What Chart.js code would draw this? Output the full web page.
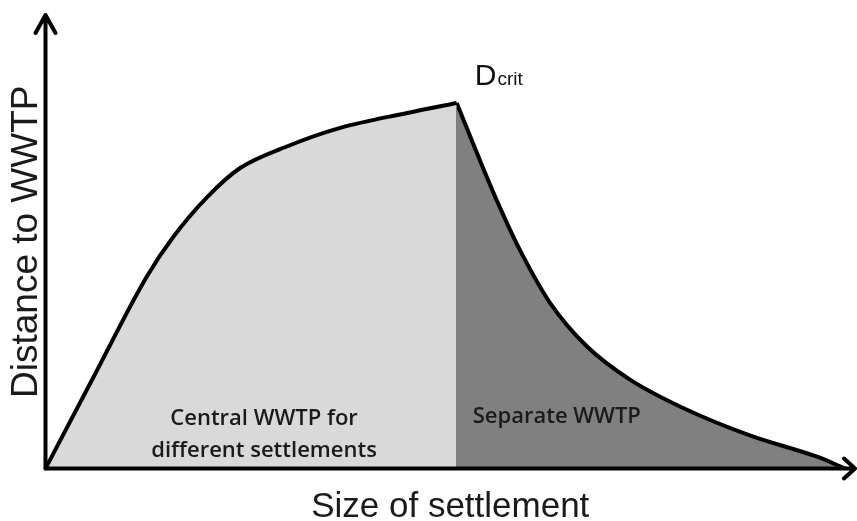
<!DOCTYPE html>
<html>
<head>
<meta charset="utf-8">
<script src="https://cdn.jsdelivr.net/npm/chart.js@4"></script>
<style>
  body { margin: 0; background: #fff; }
  .wrap { width: 857px; height: 521px; }
</style>
</head>
<body>
<div class="wrap"><canvas class="dcrit-chart"></canvas></div>
<script>
// rising part: settlements served by a central plant
const centralX = [0, 6.0, 12.5, 15.8, 20.0, 24.0, 29.8, 36.4, 44.7, 50.8];
const centralY = [0, 20.4, 42.3, 51.1, 59.9, 66.2, 71.0, 75.1, 78.4, 80.6];

// falling part: settlements with their own plant
const separateX = [50.8, 54.0, 56.1, 58.6, 62.3, 66.9, 72.2, 78.7, 87.0, 95.3, 98.8];
const separateY = [80.6, 66.5, 57.7, 48.2, 36.6, 26.9, 19.6, 13.4, 7.3, 2.6, 0];

const critX = 50.8;
const critY = 80.6;

const toPoints = (xs, ys) => xs.map((x, i) => ({ x: x, y: ys[i] }));

const arial = "'Liberation Sans', Arial, sans-serif";

// axis lines with open arrow heads + text labels
const sketch = {
  id: "sketch",
  afterDatasetsDraw(chart) {
    const { ctx, chartArea: a, scales } = chart;
    ctx.save();
    ctx.strokeStyle = "#000";
    ctx.lineWidth = 4;
    ctx.lineCap = "round";
    ctx.lineJoin = "round";

    // y axis
    ctx.beginPath();
    ctx.moveTo(a.left, a.bottom);
    ctx.lineTo(a.left, a.top);
    ctx.moveTo(a.left - 10, a.top + 18);
    ctx.lineTo(a.left, a.top);
    ctx.lineTo(a.left + 10, a.top + 18);
    ctx.stroke();

    // x axis
    ctx.beginPath();
    ctx.moveTo(a.left, a.bottom);
    ctx.lineTo(a.right, a.bottom);
    ctx.moveTo(a.right - 11, a.bottom - 10);
    ctx.lineTo(a.right, a.bottom);
    ctx.lineTo(a.right - 11, a.bottom + 10);
    ctx.stroke();

    // D crit
    const px = scales.x.getPixelForValue(critX);
    const py = scales.y.getPixelForValue(critY);
    ctx.fillStyle = "#111";
    ctx.textBaseline = "alphabetic";
    ctx.textAlign = "left";
    ctx.font = "30px " + arial;
    ctx.fillText("D", px + 18, py - 18);
    const dw = ctx.measureText("D").width;
    ctx.font = "19px " + arial;
    ctx.fillText("crit", px + 19 + dw, py - 18);

    // region labels
    ctx.fillStyle = "#1a1a1a";
    ctx.font = "600 22px 'Open Sans', sans-serif";
    ctx.textAlign = "center";
    const cx = scales.x.getPixelForValue(27.0);
    ctx.fillText("Central WWTP for", cx, a.bottom - 44);
    ctx.fillText("different settlements", cx, a.bottom - 12);
    ctx.textAlign = "left";
    ctx.fillText("Separate WWTP", px + 16, a.bottom - 46);
    ctx.restore();
  }
};

new Chart(document.querySelector(".dcrit-chart"), {
  type: "scatter",
  data: {
    datasets: [
      {
        data: toPoints(centralX, centralY),
        showLine: true,
        fill: "origin",
        backgroundColor: "#d9d9d9",
        borderColor: "#000",
        borderWidth: 4,
        cubicInterpolationMode: "monotone",
        pointRadius: 0
      },
      {
        data: toPoints(separateX, separateY),
        showLine: true,
        fill: "origin",
        backgroundColor: "#808080",
        borderColor: "#000",
        borderWidth: 4,
        cubicInterpolationMode: "monotone",
        pointRadius: 0
      },
      {
        data: [{ x: critX, y: 0 }, { x: critX, y: critY }],
        showLine: true,
        fill: false,
        borderColor: "#111",
        borderWidth: 3,
        pointRadius: 0
      }
    ]
  },
  plugins: [sketch],
  options: {
    responsive: true,
    maintainAspectRatio: false,
    animation: false,
    layout: { padding: { left: 2, right: 2, top: 15, bottom: 3 } },
    plugins: {
      legend: { display: false },
      tooltip: { enabled: false }
    },
    scales: {
      x: {
        type: "linear",
        min: 0,
        max: 100,
        grid: { display: false, drawTicks: false },
        border: { display: false },
        ticks: { display: false },
        title: {
          display: true,
          text: "Size of settlement",
          color: "#1a1a1a",
          font: { family: arial, size: 35, lineHeight: 0.6 },
          padding: { top: 28.5, bottom: 0 }
        }
      },
      y: {
        type: "linear",
        min: 0,
        max: 100,
        grid: { display: false, drawTicks: false },
        border: { display: false },
        ticks: { display: false },
        title: {
          display: true,
          text: "Distance to WWTP",
          color: "#1a1a1a",
          font: { family: arial, size: 37, lineHeight: 1.0 },
          padding: { top: 6.5, bottom: 0 }
        }
      }
    }
  }
});
</script>
</body>
</html>
